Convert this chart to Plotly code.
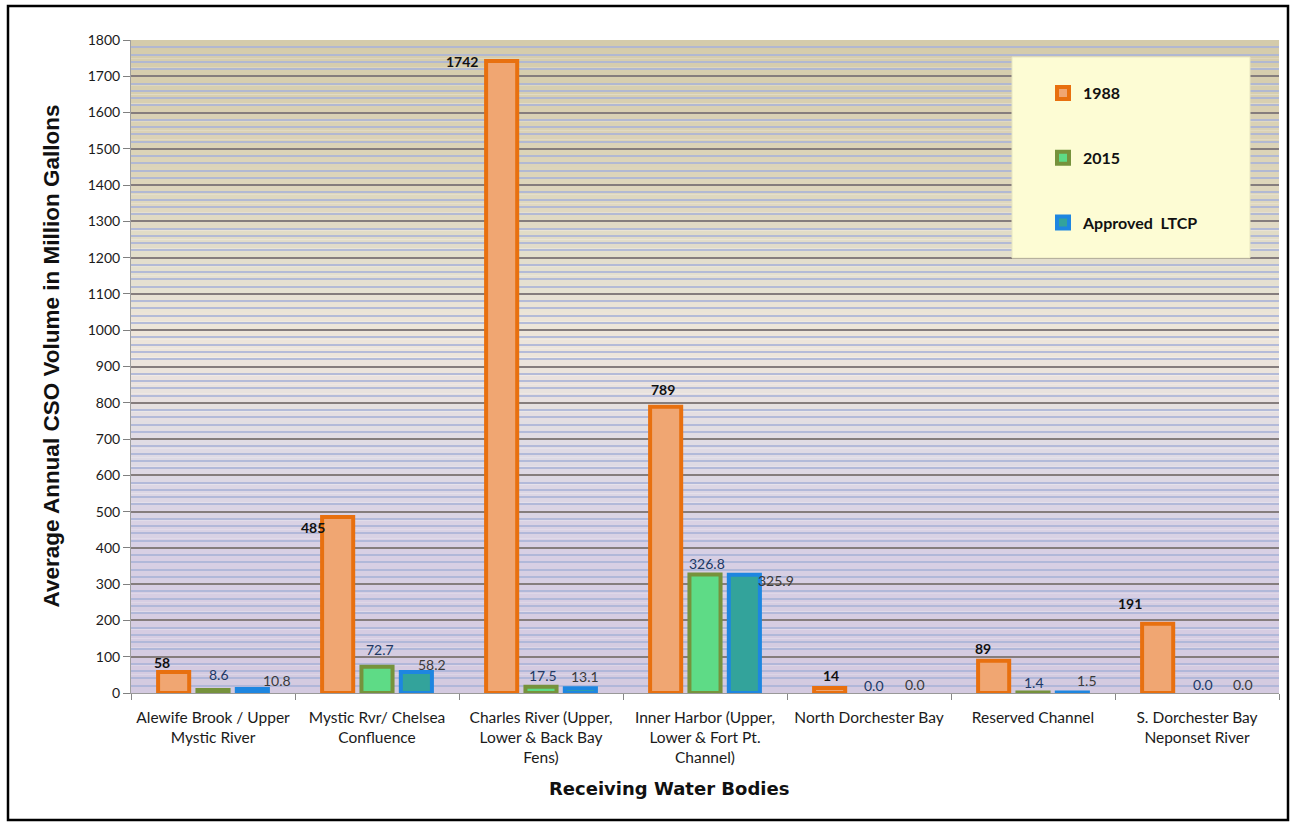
import plotly.graph_objects as go

# ---------------- data ----------------
categories = [
    "Alewife Brook / Upper<br>Mystic River",
    "Mystic Rvr/ Chelsea<br>Confluence",
    "Charles River (Upper,<br>Lower & Back Bay<br>Fens)",
    "Inner Harbor (Upper,<br>Lower & Fort Pt.<br>Channel)",
    "North Dorchester Bay",
    "Reserved Channel",
    "S. Dorchester Bay<br>Neponset River",
]
vol_1988 = [58, 485, 1742, 789, 14, 89, 191]
vol_2015 = [8.6, 72.7, 17.5, 326.8, 0.0, 1.4, 0.0]
vol_ltcp = [10.8, 58.2, 13.1, 325.9, 0.0, 1.5, 0.0]
series_names = ["1988", "2015", "Approved  LTCP"]
y_ticks = list(range(0, 1801, 100))

# ---------------- styling ----------------
W, H = 1292, 828
ML, MR, MT, MB = 131, 13, 40, 135
PW, PH = W - ML - MR, H - MT - MB
BARGAP = 0.28
slot = PW / len(categories) * (1 - BARGAP) / 3

fills = ["#F0A672", "#5EDB86", "#33A39B"]
lines = ["#E8700F", "#76923C", "#1E86E0"]
FONT = "Lato, 'Open Sans', Arial, sans-serif"

# label offsets (px) relative to bar top centre: (dx, dy-up)
off_1988 = [(-12, 9), (-25, -10), (-40, 0), (-3, 17), (1, 12), (-11, 12), (-28, 20)]
off_2015 = [(6, 15), (3, 17), (2, 11), (2, 11), (5, 8), (1, 10), (6, 9)]
off_ltcp = [(25, 9), (16, 7), (5, 12), (32, -6), (7, 9), (15, 12), (7, 9)]

fig = go.Figure()
all_vals = [vol_1988, vol_2015, vol_ltcp]
for i, vals in enumerate(all_vals):
    fig.add_trace(go.Bar(
        x=categories, y=vals, name=series_names[i],
        legendgroup=str(i),
        marker=dict(color=fills[i],
                    line=dict(color=lines[i], width=[4 if v > 0 else 0 for v in vals])),
    ))

annotations = []
label_styles = [
    dict(color="#111111", size=14, weight="bold"),
    dict(color="#203864", size=14),
    dict(color="#3a3a3a", size=14),
]
offsets = [off_1988, off_2015, off_ltcp]
for i, vals in enumerate(all_vals):
    for j, v in enumerate(vals):
        txt = f"{v:.0f}" if i == 0 else f"{v:.1f}"
        dx, dy = offsets[i][j]
        annotations.append(dict(
            x=categories[j], y=v, xref="x", yref="y", text=txt, showarrow=False,
            xshift=(i - 1) * slot + dx, yshift=dy, yanchor="middle", xanchor="center",
            font=dict(family=FONT, **label_styles[i]),
        ))

# axis titles
annotations.append(dict(
    x=(669 - ML) / PW, y=(MT + PH - 801) / PH, xref="paper", yref="paper",
    text="<b>Receiving Water Bodies</b>", showarrow=False,
    font=dict(family="'DejaVu Sans', sans-serif", size=18, color="#111111"),
))
annotations.append(dict(
    x=(36 - ML) / PW, y=(MT + PH - 356) / PH, xref="paper", yref="paper",
    text="<b>Average Annual CSO Volume in Million Gallons</b>", showarrow=False,
    textangle=-90,
    font=dict(family="'Liberation Sans Narrow', 'Arial Narrow', sans-serif", size=22.5, color="#111111"),
))

# background gradient bands
stops = [(0, (212, 202, 224)), (400, (216, 208, 228)), (700, (224, 220, 228)),
         (900, (236, 228, 220)), (1000, (238, 230, 218)), (1150, (228, 224, 208)),
         (1400, (222, 214, 188)), (1800, (212, 203, 170))]

def col_at(v):
    for k in range(len(stops) - 1):
        a, ca = stops[k]
        b, cb = stops[k + 1]
        if a <= v <= b:
            t = (v - a) / (b - a)
            c = [round(ca[m] + (cb[m] - ca[m]) * t) for m in range(3)]
            return f"rgb({c[0]},{c[1]},{c[2]})"
    return "rgb(212,203,170)"

shapes = []
step = 25
for lo in range(0, 1800, step):
    shapes.append(dict(type="rect", xref="paper", yref="y", x0=0, x1=1,
                       y0=lo, y1=lo + step, fillcolor=col_at(lo + step / 2),
                       line=dict(width=0), layer="below"))
# legend box
shapes.append(dict(type="rect", xref="paper", yref="paper",
                   x0=(1012 - ML) / PW, x1=(1250 - ML) / PW,
                   y0=(MT + PH - 258) / PH, y1=(MT + PH - 57) / PH,
                   fillcolor="#FDFCD4", line=dict(color="#E8E6C0", width=1), layer="above"))
# outer border
shapes.append(dict(type="rect", xref="paper", yref="paper",
                   x0=(8 - ML) / PW, x1=(1288 - ML) / PW,
                   y0=(MT + PH - 820) / PH, y1=(MT + PH - 6) / PH,
                   line=dict(color="#000000", width=2.5), fillcolor="rgba(0,0,0,0)"))

fig.update_layout(
    width=W, height=H,
    margin=dict(l=ML, r=MR, t=MT, b=MB, pad=0, autoexpand=False),
    paper_bgcolor="white", plot_bgcolor="rgba(0,0,0,0)",
    barmode="group", bargap=BARGAP, bargroupgap=0.21,
    shapes=shapes, annotations=annotations,
    showlegend=True,
    legend=dict(x=(1043 - ML) / PW, y=(MT + PH - 76) / PH, xanchor="left", yanchor="top",
                bgcolor="rgba(0,0,0,0)", tracegroupgap=41,
                font=dict(family=FONT, size=16, color="#111111", weight="bold")),
    xaxis=dict(type="category", tickson="boundaries", ticks="outside", ticklen=6,
               tickcolor="#888888", showline=True, linecolor="#999999",
               ticklabelstandoff=10, tickangle=0, automargin=False,
               tickfont=dict(family=FONT, size=15.5, color="#1a1a1a"), showgrid=False),
    yaxis=dict(range=[0, 1800], tickvals=y_ticks, ticks="outside", ticklen=7,
               tickcolor="#808080", showline=True, linecolor="#A0A0A0",
               gridcolor="#857D7D", gridwidth=1.5, zeroline=False, automargin=False,
               tickfont=dict(family=FONT, size=14, color="#1a1a1a"),
               minor=dict(dtick=20, showgrid=True, gridcolor="rgba(170,180,215,0.85)", gridwidth=1.5)),
)

fig.write_html("out.html")
